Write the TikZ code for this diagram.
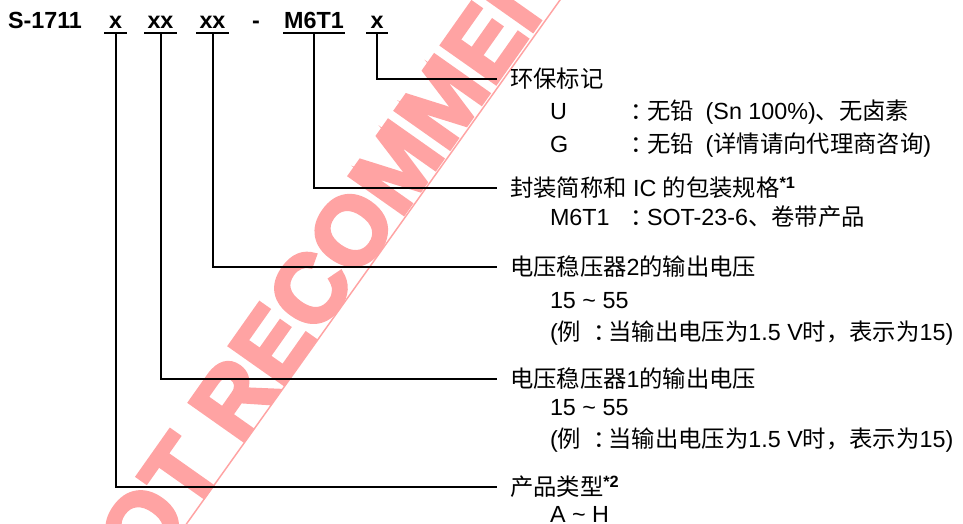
\documentclass[tikz,border=0pt]{standalone}
\usepackage{fontspec}
\setmainfont{Liberation Sans}
\newfontfamily\cjkf{Noto Sans CJK SC}
\newfontfamily\wmf{Liberation Sans Bold}[FakeBold=4]
\newcommand\C[1]{{\cjkf #1}}
\definecolor{wmred}{RGB}{255,163,163}
\begin{document}
\begin{tikzpicture}[x=0.75pt,y=-0.75pt,
  every node/.style={inner sep=0pt, outer sep=0pt, font=\fontsize{17.5}{21}\selectfont},
  codef/.style={font=\fontsize{17.5}{21}\selectfont\bfseries, anchor=base, text depth=3pt},
  hdr/.style={anchor=west, inner xsep=9.75pt, text height=16pt, text depth=2.7pt},
  sub/.style={anchor=base west},
  conn/.style={line width=1.5pt},
  uline/.style={line width=1.5pt},
  wm/.style={font=\fontsize{72}{75}\wmf, text=wmred, anchor=base west, rotate=54.8},
  wmline/.style={draw=wmred, line width=1.1pt}
]
\useasboundingbox (0,0) rectangle (963,524);
% watermark
\begin{scope}
  \clip (0,0) rectangle (963,524);
  \node[wm] (wmtext) at (108,633) {NOT RECOMMENDED FOR NEW DESIGN};
  \coordinate (wa) at (575,-21);
  \coordinate (wb) at (170,547);
  \draw[wmline] (wa) -- (wb);
\end{scope}
% part number
\node[codef, anchor=base west] (pn) at (8,29) {S-1711};
\node[codef, minimum width=17.25pt] (f1) at (115.5,29) {x};
\node[codef, minimum width=24.75pt] (f2) at (160.5,29) {xx};
\node[codef, minimum width=24.75pt] (f3) at (212.5,29) {xx};
\node[codef] (dash) at (256,29) {-};
\node[codef, minimum width=46.5pt] (f4) at (314,29) {M6T1};
\node[codef, minimum width=16.5pt] (f5) at (377,29) {x};
\foreach \f in {f1,f2,f3,f4,f5}
  \draw[uline] (\f.south west) -- (\f.south east);
% headers
\node[hdr] (h5) at (497,79) {\C{环保标记}};
\node[hdr] (h4) at (497,188) {\C{封装简称和} IC \C{的包装规格}\textsuperscript{\bfseries *1}};
\node[hdr] (h3) at (497,267) {\C{电压稳压器}2\C{的输出电压}};
\node[hdr] (h2) at (497,379) {\C{电压稳压器}1\C{的输出电压}};
\node[hdr] (h1) at (497,487) {\C{产品类型}\textsuperscript{\bfseries *2}};
% connectors
\draw[conn] (f5.south) |- (h5.west);
\draw[conn] (f4.south) |- (h4.west);
\draw[conn] (f3.south) |- (h3.west);
\draw[conn] (f2.south) |- (h2.west);
\draw[conn] (f1.south) |- (h1.west);
% details
\node[sub] (u) at (550,120) {U};
\node[sub] (uc) at (630,120) {\C{：}};
\node[sub] (ut) at (647,120) {\C{无铅}\hspace{9pt}(Sn 100\%)\C{、无卤素}};
\node[sub] (g) at (550,153) {G};
\node[sub] (gc) at (630,153) {\C{：}};
\node[sub] (gt) at (647,153) {\C{无铅}\hspace{9pt}(\C{详情请向代理商咨询})};
\node[sub] (m) at (550,225) {M6T1};
\node[sub] (mc) at (630,225) {\C{：}};
\node[sub] (mt) at (647,225) {SOT-23-6\C{、卷带产品}};
\node[sub] (r2) at (550,308) {15 \textasciitilde{} 55};
\node[sub] (e2) at (550,340) {(\C{例}\hspace{9pt}\C{：}\hspace{-6pt}\C{当输出电压为}1.5 V\C{时，表示为}15)};
\node[sub] (r1) at (550,415) {15 \textasciitilde{} 55};
\node[sub] (e1) at (550,447) {(\C{例}\hspace{9pt}\C{：}\hspace{-6pt}\C{当输出电压为}1.5 V\C{时，表示为}15)};
\node[sub] (t) at (550,522) {A \textasciitilde{} H};
\end{tikzpicture}
\end{document}
